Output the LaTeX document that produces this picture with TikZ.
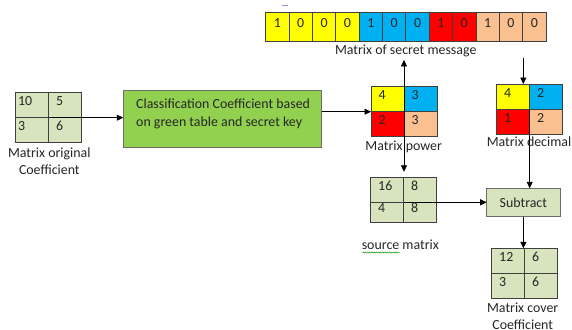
\documentclass[tikz,border=0pt]{standalone}
\usepackage{fontspec}
\setmainfont{Carlito}
\usetikzlibrary{arrows.meta,decorations.pathmorphing}

\definecolor{cyel}{HTML}{FFFF00}
\definecolor{ccyan}{HTML}{00B0F0}
\definecolor{cred}{HTML}{FF0000}
\definecolor{cpeach}{HTML}{FAC090}
\definecolor{cpale}{HTML}{D7E4BD}
\definecolor{cgreen}{HTML}{92D050}
\definecolor{ink}{HTML}{262626}
\definecolor{rim}{HTML}{404040}
\definecolor{boxrim}{HTML}{6B6B6B}

\tikzset{
  every node/.style={font=\fontsize{13.9}{17}\selectfont, text=ink},
  cell/.style={draw=rim, line width=0.8pt, outer sep=0pt, inner sep=0pt,
    minimum width=33pt, minimum height=25pt, text width=18pt, align=left,
    text height=9pt, text depth=8pt},
  wide/.style={text width=28pt},
  scell/.style={draw=rim, line width=0.8pt, outer sep=0pt, inner sep=0pt,
    minimum width=23.36pt, minimum height=29pt, align=center,
    text height=9pt, text depth=8pt},
  procbox/.style={draw=boxrim, line width=0.8pt, outer sep=0pt, inner sep=0pt},
  caption/.style={anchor=base, align=center},
  arr/.style={draw=black, line width=0.8pt, -{Triangle[length=6.5pt,width=6pt]}},
}

\begin{document}
\begin{tikzpicture}[x=1pt, y=-1pt]
\fill[white] (0,0) rectangle (572,329);
\useasboundingbox (0,0) rectangle (572,329);

% small mark above the message strip
\draw[color=gray!50!blue!55, line width=0.8pt] (282.3,5) -- (288.3,5);

% secret message bits
\foreach \v/\c [count=\i] in {1/cyel,0/cyel,0/cyel,0/cyel,1/ccyan,0/ccyan,0/ccyan,1/cred,0/cred,1/cpeach,0/cpeach,0/cpeach}
  \node[scell, fill=\c, anchor=north west] (s\i) at ({265.7+(\i-1)*23.36}, 12.7) {\v};
\node[caption] (msglbl) at (405.7,54) {Matrix of secret message};

% original coefficient matrix
\node[cell, wide, fill=cpale, anchor=north west] (mo11) at (15.7,92.7) {10};
\node[cell, fill=cpale, anchor=west] (mo12) at (mo11.east) {5};
\node[cell, wide, fill=cpale, anchor=north] (mo21) at (mo11.south) {3};
\node[cell, fill=cpale, anchor=west] (mo22) at (mo21.east) {6};
\node[caption] (molbl) at (49.3,174.3) {Matrix original\\Coefficient};

% classification step
\node[procbox, fill=cgreen, minimum width=198.4pt, minimum height=57.7pt] (gbox) at (222.5,118.85) {};
\node[anchor=west, align=left, inner sep=0pt, font=\fontsize{13.9}{18.3}\selectfont] (gbtext) at (136,114.2)
  {Classification Coefficient based\\on green table and secret key};

% power matrix
\node[cell, fill=cyel, anchor=north west] (pw11) at (371,86.7) {4};
\node[cell, fill=ccyan, anchor=west] (pw12) at (pw11.east) {3};
\node[cell, fill=cred, anchor=north] (pw21) at (pw11.south) {2};
\node[cell, fill=cpeach, anchor=west] (pw22) at (pw21.east) {3};
\node[caption] (pwlbl) at (403.7,150) {Matrix power};

% decimal matrix
\node[cell, fill=cyel, anchor=north west] (dc11) at (496.7,84) {4};
\node[cell, fill=ccyan, anchor=west] (dc12) at (dc11.east) {2};
\node[cell, fill=cred, anchor=north] (dc21) at (dc11.south) {1};
\node[cell, fill=cpeach, anchor=west] (dc22) at (dc21.east) {2};
\node[caption] (dclbl) at (529,146) {Matrix decimal};

% source matrix
\node[cell, fill=cpale, anchor=north west] (sm11) at (370.7,177.3) {16};
\node[cell, fill=cpale, anchor=west] (sm12) at (sm11.east) {8};
\node[cell, fill=cpale, anchor=north, minimum height=20pt] (sm21) at (sm11.south) {4};
\node[cell, fill=cpale, anchor=west, minimum height=20pt] (sm22) at (sm21.east) {8};
\node[caption] (smlbl) at (400.3,249) {source matrix};
\draw[decorate, decoration={snake, amplitude=0.6pt, segment length=2.2pt},
      color=green!55!black, line width=0.4pt] (362.5,252.5) -- (400,252.5);

% subtraction step
\node[procbox, fill=cpale, minimum width=73.3pt, minimum height=28.4pt] (sub) at (523.35,202.5) {Subtract};

% cover matrix
\node[cell, fill=cpale, anchor=north west] (cv11) at (491.7,248.3) {12};
\node[cell, fill=cpale, anchor=west] (cv12) at (cv11.east) {6};
\node[cell, fill=cpale, anchor=north] (cv21) at (cv11.south) {3};
\node[cell, fill=cpale, anchor=west] (cv22) at (cv21.east) {6};
\node[caption] (cvlbl) at (522.7,329.5) {Matrix cover\\Coefficient};

% connectors
\coordinate (dcin) at (523.3,57.7);
\draw[arr] (mo11.south east) -- (mo11.south east -| gbox.west);
\draw[arr] (pw11.south west -| gbox.east) -- (pw11.south west);
\draw[arr] (pw11.south east) -- (pw11.south east |- msglbl.south);
\draw[arr, shorten >=5.5pt] (pw11.south east) -- (pw11.south east |- sm11.north);
\draw[arr] (dcin) -- (dcin |- dc11.north);
\draw[arr] (dc11.south east) -- (dc11.south east |- sub.north);
\draw[arr] (sm11.south east) -- (sm11.south east -| sub.west);
\draw[arr] (sub.south) -- (sub.south |- cv11.north);
\end{tikzpicture}
\end{document}
